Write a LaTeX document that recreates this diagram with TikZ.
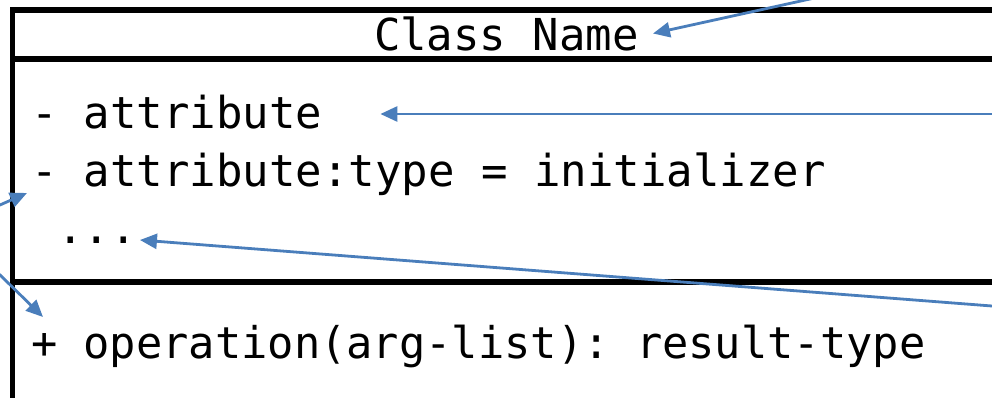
\documentclass[tikz,border=0pt]{standalone}
\usepackage{fontspec}
\setmonofont{DejaVu Sans Mono}
\usetikzlibrary{arrows.meta,calc}
\definecolor{pointer}{HTML}{4A7EBB}
\tikzset{
  frame/.style={line width=5.5pt, draw=black, line join=miter},
  member/.style={anchor=base west, inner sep=0pt, outer sep=0pt,
    font=\fontsize{44}{57}\selectfont\ttfamily},
  pointerarrow/.style={draw=pointer, line width=2.8pt,
    -{Triangle[length=17pt,width=15pt]}},
}
\begin{document}
\begin{tikzpicture}[x=1pt,y=-1pt]
  \useasboundingbox (0,0) rectangle (992,398);
  \clip (0,0) rectangle (992,398);

  % class box: outer frame and compartment separators
  \draw[frame] (1010,10) -- (12.5,10) -- (12.5,420);
  \draw[frame] (12.5,59) -- (1010,59);
  \draw[frame] (12.5,282) -- (1010,282);

  % compartment contents
  \node[member] (title) at (374,50.5) {Class Name};
  \node[member] (attrA) at (31,129) {- attribute};
  \node[member] (attrB) at (31,186) {- attribute:type = initializer};
  \node[member] (more)  at (31,243) {\phantom{.}...};
  \node[member, font=\fontsize{43.7}{57}\selectfont\ttfamily]
       (oper)  at (31,358) {+ operation(arg-list): result-type};

  % free ends of the pointers
  \coordinate (srcTitle) at (850,-9.8);
  \coordinate (srcAttr)  at (1010,114);
  \coordinate (srcMore)  at (1010,307.4);
  \coordinate (srcVis)   at (-10,209.4);
  \coordinate (srcOper)  at (-10,265.2);

  % pointers to the parts of the class box
  \draw[pointerarrow] (srcTitle) -- ($(title.base east)+(14.1,-17)$);
  \draw[pointerarrow] (srcAttr)  -- ($(attrA.base east)+(58,-15)$);
  \draw[pointerarrow] (srcMore)  -- ($(more.base east)+(3,-3)$);
  \draw[pointerarrow] (srcVis)   -- ($(attrB.base west)+(-4,7)$);
  \draw[pointerarrow] (srcOper)  -- ($(oper.base west)+(12,-41)$);
\end{tikzpicture}
\end{document}
